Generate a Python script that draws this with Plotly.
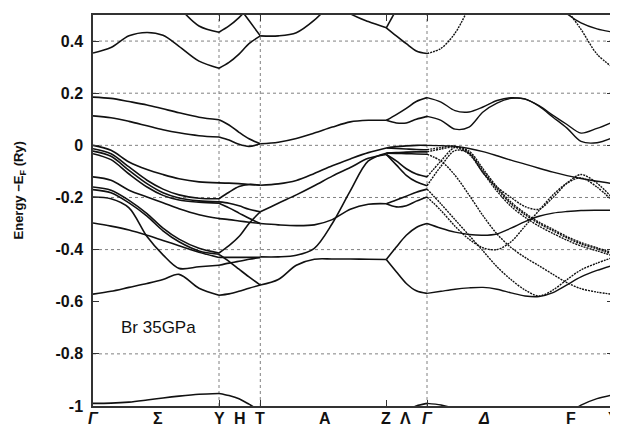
import plotly.graph_objects as go

# ---------------- data ----------------
# high-symmetry points along the k path (path-length units)
K_SYM = [0, 126, 167.3, 293.3, 334, 520]
LABEL_K = [0, 64.5, 126, 146.5, 167.3, 231.5, 293.3, 312, 334, 390.5, 478, 520]
LABEL_TEXT = ["<i>Γ</i>", "Σ", "Y", "H", "T", "A", "Z", "Λ", "<i>Γ</i>", "<i>Δ</i>", "F", "Y"]
Y_TICKS = [0.4, 0.2, 0, -0.2, -0.4, -0.6, -0.8, -1]
Y_TICKTEXT = ["0.4", "0.2", "0", "-0.2", "-0.4", "-0.6", "-0.8", "-1"]
H_GRID = [0.4, 0.2, 0, -0.2, -0.4, -0.8]
V_GRID = [126, 167.3, 334]

N = None
# Gamma -> Y  (Sigma)
K_GY = [0, 18, 36, 54, 70, 86, 106, 126]
GY_BANDS = [
    [0.354, 0.375, 0.42, 0.433, 0.422, 0.38, 0.323, 0.296],
    [N, N, N, N, N, 0.53, 0.458, 0.434],
    [0.185, 0.18, 0.168, 0.155, 0.14, 0.125, 0.108, 0.098],
    [0.113, 0.106, 0.092, 0.075, 0.06, 0.048, 0.037, 0.032],
    [0.0, -0.019, -0.064, -0.093, -0.112, -0.128, -0.14, -0.144],
    [-0.013, -0.032, -0.083, -0.134, -0.168, -0.19, -0.203, -0.205],
    [-0.022, -0.042, -0.096, -0.147, -0.182, -0.202, -0.213, -0.217],
    [-0.032, -0.055, -0.11, -0.16, -0.192, -0.21, -0.218, -0.222],
    [-0.121, -0.134, -0.172, -0.198, -0.22, -0.243, -0.266, -0.281],
    [-0.16, -0.172, -0.211, -0.262, -0.318, -0.36, -0.395, -0.413],
    [-0.17, -0.182, -0.221, -0.272, -0.328, -0.37, -0.405, -0.418],
    [-0.198, -0.205, -0.24, -0.35, -0.42, -0.472, -0.466, -0.46],
    [-0.298, -0.31, -0.325, -0.345, -0.365, -0.385, -0.41, -0.43],
    [-0.571, -0.56, -0.545, -0.53, -0.515, -0.495, -0.548, -0.575],
    [-0.99, -0.989, -0.985, -0.977, -0.969, -0.962, -0.955, -0.952],
]
# Y -> T  (H)
K_YT = [126, 136, 146, 156, 167.3]
YT_BANDS = [
    [0.296, 0.318, 0.35, 0.39, 0.42],
    [0.434, 0.458, 0.49, 0.53, N],
    [N, N, 0.53, 0.479, 0.42],
    [0.098, 0.078, 0.05, 0.025, 0.006],
    [0.032, 0.02, 0.004, -0.004, 0.006],
    [-0.144, -0.145, -0.147, -0.15, -0.153],
    [-0.205, -0.18, -0.158, -0.15, -0.153],
    [-0.217, -0.222, -0.232, -0.245, -0.255],
    [-0.222, -0.24, -0.26, -0.28, -0.3],
    [-0.281, -0.285, -0.29, -0.295, -0.3],
    [-0.413, -0.385, -0.35, -0.3, -0.255],
    [-0.418, -0.445, -0.475, -0.505, -0.536],
    [-0.46, -0.452, -0.445, -0.437, -0.43],
    [-0.43, -0.43, -0.43, -0.43, -0.43],
    [-0.575, -0.57, -0.56, -0.548, -0.536],
    [-0.952, -0.96, -0.972, -0.993, -1.02],
]
# T -> Z  (A)
K_TZ = [167.3, 185.3, 203.3, 221.3, 239.3, 257.3, 275.3, 293.3]
TZ_BANDS = [
    [0.42, 0.42, 0.432, 0.48, 0.55, N, N, N],
    [N, N, N, N, 0.56, 0.505, 0.475, 0.451],
    [0.006, 0.012, 0.026, 0.047, 0.07, 0.09, 0.096, 0.096],
    [-0.153, -0.148, -0.135, -0.108, -0.078, -0.052, -0.028, -0.01],
    [-0.255, -0.222, -0.19, -0.155, -0.118, -0.085, -0.05, -0.035],
    [-0.428, -0.428, -0.422, -0.395, -0.3, -0.175, -0.06, -0.03],
    [-0.3, -0.305, -0.308, -0.305, -0.285, -0.245, -0.226, -0.224],
    [-0.536, -0.515, -0.46, -0.437, -0.436, -0.436, -0.437, -0.438],
]
# Z -> Gamma  (Lambda)
K_ZG = [293.3, 303.3, 313.3, 323.3, 334]
ZG_BANDS = [
    [0.451, 0.52, N, N, N],
    [0.451, 0.42, 0.39, 0.362, 0.352],
    [0.096, 0.118, 0.142, 0.168, 0.183],
    [0.096, 0.086, 0.086, 0.1, 0.111],
    [-0.01, -0.005, -0.002, 0.0, 0.0],
    [-0.01, -0.012, -0.014, -0.016, -0.017],
    [-0.03, -0.028, -0.026, -0.025, -0.025],
    [-0.03, -0.031, -0.032, -0.033, -0.034],
    [-0.035, -0.06, -0.09, -0.11, -0.121],
    [-0.035, -0.075, -0.115, -0.14, -0.155],
    [-0.224, -0.21, -0.195, -0.18, -0.168],
    [-0.224, -0.236, -0.232, -0.214, -0.198],
    [-0.438, -0.39, -0.345, -0.315, -0.3],
    [-0.438, -0.485, -0.53, -0.558, -0.568],
    [N, N, -1.02, -1.0, -0.99],
]
# Gamma -> Y  (Delta / F)
K_GD = [334, 348, 362, 376, 390, 404, 418, 432, 446, 460, 474, 488, 504, 520]
GD_SOLID = [
    [0.183, 0.166, 0.133, 0.128, 0.147, 0.172, 0.183, 0.177, 0.152, 0.115, 0.08, 0.047, 0.065, 0.09],
    [0.111, 0.096, 0.062, 0.07, 0.128, 0.162, 0.18, 0.178, 0.15, 0.108, 0.066, 0.015, 0.01, 0.03],
    [0.0, -0.001, -0.004, -0.012, -0.024, -0.04, -0.057, -0.072, -0.088, -0.103, -0.116, -0.127, -0.138, -0.147],
    [N, N, N, N, N, N, N, N, N, 0.56, 0.505, 0.47, 0.447, 0.434],
    [-0.3, -0.318, -0.333, -0.342, -0.345, -0.34, -0.318, -0.293, -0.272, -0.26, -0.254, -0.25, -0.249, -0.249],
    [-0.568, -0.56, -0.552, -0.547, -0.545, -0.552, -0.566, -0.578, -0.58, -0.565, -0.535, -0.505, -0.48, -0.46],
    [-0.99, -0.996, -1.01, N, N, N, N, N, N, N, N, N, N, N],
    [N, N, N, N, N, N, N, N, N, N, -1.03, -0.997, -0.972, -0.957],
]
GD_DOTTED = [
    [0.352, 0.372, 0.43, 0.53, N, N, N, N, N, N, N, N, N, N],
    [N, N, N, N, N, N, N, N, N, 0.6, 0.52, 0.445, 0.35, 0.298],
    [-0.017, -0.008, -0.003, -0.028, -0.097, -0.167, -0.224, -0.266, -0.3, -0.328, -0.355, -0.378, -0.397, -0.418],
    [-0.025, -0.014, -0.007, -0.034, -0.105, -0.176, -0.234, -0.276, -0.31, -0.338, -0.364, -0.386, -0.405, -0.424],
    [-0.121, -0.06, -0.008, -0.022, -0.09, -0.16, -0.218, -0.26, -0.295, -0.322, -0.35, -0.373, -0.393, -0.412],
    [-0.034, -0.06, -0.115, -0.19, -0.27, -0.34, -0.392, -0.43, -0.462, -0.495, -0.527, -0.55, -0.563, -0.572],
    [-0.155, -0.08, -0.02, -0.03, -0.105, -0.16, -0.2, -0.235, -0.245, -0.2, -0.145, -0.112, -0.145, -0.205],
    [-0.168, -0.225, -0.285, -0.345, -0.405, -0.466, -0.515, -0.555, -0.578, -0.555, -0.515, -0.478, -0.452, -0.43],
    [-0.198, -0.25, -0.31, -0.36, -0.393, -0.4, -0.37, -0.31, -0.25, -0.19, -0.145, -0.125, -0.16, -0.215],
]
LABEL_NOTE = "Br 35GPa"
NOTE_POS = (65.3, -0.70)

# ---------------- figure ----------------
fig = go.Figure()
INK = "#111111"


def add_segment(k, bands, width=1.6, dash="solid"):
    for e in bands:
        fig.add_trace(go.Scatter(
            x=k, y=e, mode="lines",
            line=dict(color=INK, width=width, shape="spline", smoothing=0.9, dash=dash),
            hoverinfo="skip", showlegend=False, connectgaps=False))


add_segment(K_GY, GY_BANDS)
add_segment(K_YT, YT_BANDS)
add_segment(K_TZ, TZ_BANDS)
add_segment(K_ZG, ZG_BANDS)
add_segment(K_GD, GD_SOLID, width=1.4)
add_segment(K_GD, GD_DOTTED, width=1.4, dash="2px,1px")

shapes = []
for yv in H_GRID:
    shapes.append(dict(type="line", xref="x", yref="y", x0=K_SYM[0], x1=K_SYM[-1], y0=yv, y1=yv,
                       line=dict(color="#808080", width=1, dash="dot"), layer="below"))
for xv in V_GRID:
    shapes.append(dict(type="line", xref="x", yref="y", x0=xv, x1=xv, y0=-1, y1=0.5,
                       line=dict(color="#808080", width=1, dash="dot"), layer="below"))

annotations = []
for kx, txt in zip(LABEL_K, LABEL_TEXT):
    annotations.append(dict(x=kx, y=0, xref="x", yref="paper", text=txt, showarrow=False,
                            yanchor="top", xanchor="center", yshift=-2,
                            font=dict(family="Liberation Sans", size=16, color=INK, weight="bold")))
annotations.append(dict(x=NOTE_POS[0], y=NOTE_POS[1], xref="x", yref="y", text=LABEL_NOTE,
                        showarrow=False, font=dict(family="Liberation Sans", size=17, color=INK)))
annotations.append(dict(x=-0.1417, y=0.552, xref="paper", yref="paper", xanchor="center",
                        yanchor="middle",
                        text="Energy −E<sub>F</sub> (Ry)", textangle=-90, showarrow=False,
                        font=dict(family="Liberation Sans", size=13, color=INK, weight="bold")))

fig.update_layout(
    width=610, height=421,
    margin=dict(l=84.7, r=5.3, t=6.6, b=23, autoexpand=False),
    paper_bgcolor="white", plot_bgcolor="white",
    shapes=shapes, annotations=annotations,
    xaxis=dict(range=[K_SYM[0], K_SYM[-1]], tickvals=[126, 167.3, 293.3, 334], ticks="inside",
               ticklen=6, tickcolor="#333", showticklabels=False, showgrid=False, zeroline=False,
               showline=True, linecolor="#333", linewidth=1.5, mirror="allticks"),
    yaxis=dict(range=[-1, 0.5], tickvals=Y_TICKS, ticktext=Y_TICKTEXT, ticks="inside",
               ticklen=6, tickcolor="#333", showgrid=False, zeroline=False,
               showline=True, linecolor="#333", linewidth=1.5, mirror="allticks",
               ticklabelstandoff=5,
               tickfont=dict(family="Liberation Sans", size=16, color=INK, weight="bold")),
)

fig.write_html("out.html")
